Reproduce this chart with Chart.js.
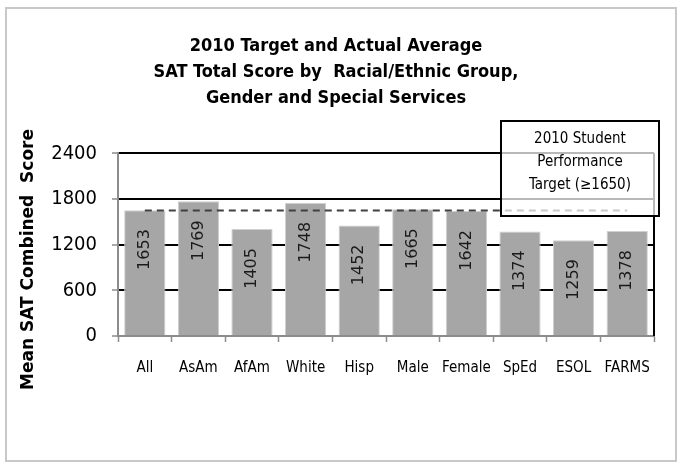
<!DOCTYPE html>
<html>
<head>
<meta charset="utf-8">
<script src="https://cdn.jsdelivr.net/npm/chart.js@4.4.1/dist/chart.umd.min.js"></script>
<style>
    html, body { margin: 0; padding: 0; background: #fff; }
    #wrap { position: relative; width: 678px; height: 466px; overflow: hidden; }
    #frame { position: absolute; left: 5px; top: 7px; width: 672px; height: 455px; border: 2px solid #c8c8c8; box-sizing: border-box; }
    #chart { position: absolute; left: 0; top: 0; }
    #targetBox {
        position: absolute; left: 500px; top: 120px; width: 160px; height: 97px;
        border: 2px solid #000; box-sizing: border-box; background: rgba(255, 255, 255, 0.72);
        font-family: 'Liberation Sans Narrow', 'DejaVu Sans Condensed', sans-serif;
        font-size: 15px; line-height: 23px; text-align: center; color: #000; padding-top: 5px;
    }
</style>
</head>
<body>
<div id="wrap">
    <div id="frame"></div>
    <canvas id="chart" width="678" height="466"></canvas>
    <div id="targetBox">2010 Student<br>Performance<br>Target (≥1650)</div>
</div>
<script>
    const groups = ['All', 'AsAm', 'AfAm', 'White', 'Hisp', 'Male', 'Female', 'SpEd', 'ESOL', 'FARMS'];
    const scores = [1653, 1769, 1405, 1748, 1452, 1665, 1642, 1374, 1259, 1378];
    const target = [1650, 1650, 1650, 1650, 1650, 1650, 1650, 1650, 1650, 1650];
    const yTicks = [0, 600, 1200, 1800, 2400];

    const narrow = "'Liberation Sans Narrow', 'DejaVu Sans Condensed', sans-serif";

    /* 막대 안쪽에 세로로 값 표시 */
    const barLabels = {
        id: 'barLabels',
        afterDatasetsDraw(chart) {
            const ctx = chart.ctx;
            const meta = chart.getDatasetMeta(0);
            ctx.save();
            ctx.font = "16px 'DejaVu Sans', sans-serif";
            ctx.fillStyle = '#1a1a1a';
            ctx.textAlign = 'right';
            ctx.textBaseline = 'middle';
            meta.data.forEach(function (bar, i) {
                ctx.save();
                ctx.translate(bar.x, bar.y + 19);
                ctx.rotate(-Math.PI / 2);
                ctx.fillText(String(scores[i]), 0, 0);
                ctx.restore();
            });
            ctx.restore();
        }
    };

    /* 오른쪽 테두리 */
    const plotBorder = {
        id: 'plotBorder',
        beforeDatasetsDraw(chart) {
            const a = chart.chartArea;
            const ctx = chart.ctx;
            ctx.save();
            ctx.strokeStyle = '#000';
            ctx.lineWidth = 2;
            ctx.beginPath();
            ctx.moveTo(a.right, a.top);
            ctx.lineTo(a.right, a.bottom);
            ctx.stroke();
            ctx.restore();
        }
    };

    new Chart(document.getElementById('chart'), {
        data: {
            labels: groups,
            datasets: [{
                type: 'bar',
                label: 'Mean SAT Combined Score',
                data: scores,
                backgroundColor: '#a6a6a6',
                borderColor: '#d0d0d0',
                borderWidth: 1,
                barPercentage: 0.77,
                categoryPercentage: 1.0,
                order: 2
            }, {
                type: 'line',
                label: '2010 Student Performance Target (≥1650)',
                data: target,
                borderColor: '#404040',
                borderWidth: 2,
                borderDash: [7, 5],
                pointRadius: 0,
                fill: false,
                order: 1
            }]
        },
        options: {
            responsive: false,
            animation: false,
            layout: { padding: { left: 18, right: 24, top: 0, bottom: 0 } },
            plugins: {
                legend: { display: false },
                tooltip: { enabled: false },
                title: {
                    display: true,
                    text: ['2010 Target and Actual Average', 'SAT Total Score by  Racial/Ethnic Group,', 'Gender and Special Services'],
                    color: '#000',
                    font: { family: narrow, size: 18, weight: 'bold', lineHeight: 1.45 },
                    padding: { top: 33, bottom: 42 }
                }
            },
            scales: {
                x: {
                    afterFit(scale) { scale.height = 130; },
                    grid: { drawOnChartArea: false, drawTicks: true, tickLength: 6, tickColor: '#8c8c8c', tickWidth: 1.5 },
                    border: { color: '#8c8c8c', width: 2 },
                    ticks: { color: '#000', font: { family: narrow, size: 15 }, padding: 17, maxRotation: 0, minRotation: 0, autoSkip: false }
                },
                y: {
                    min: 0,
                    max: 2400,
                    afterFit(scale) { scale.width = 100; },
                    afterBuildTicks(scale) { scale.ticks = yTicks.map(function (v) { return { value: v }; }); },
                    grid: { color: '#000', lineWidth: 2, tickLength: 6, tickColor: '#8c8c8c', tickWidth: 1.5 },
                    border: { color: '#8c8c8c', width: 2 },
                    ticks: {
                        color: '#000',
                        font: { family: narrow, size: 20 },
                        padding: 15,
                        callback: function (v) { return String(v); }
                    },
                    title: {
                        display: true,
                        text: 'Mean SAT Combined  Score     ',
                        color: '#000',
                        font: { family: "'DejaVu Sans', sans-serif", size: 17, weight: 'bold' },
                        padding: 0
                    }
                }
            }
        },
        plugins: [barLabels, plotBorder]
    });
</script>
</body>
</html>
